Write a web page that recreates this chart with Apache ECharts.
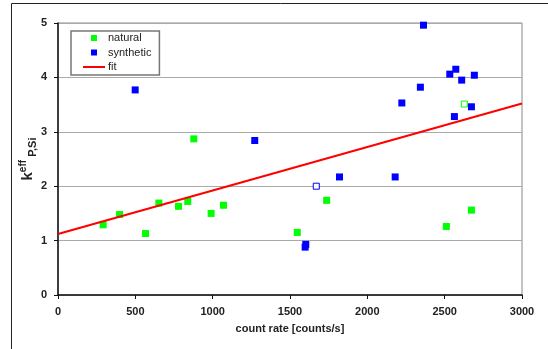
<!DOCTYPE html>
<html>
<head>
<meta charset="utf-8">
<script src="https://cdn.jsdelivr.net/npm/echarts@6/dist/echarts.min.js"></script>
<style>html,body{margin:0;padding:0;background:#fff}#c{width:548px;height:349px}</style>
</head>
<body>
<div id="c"></div>
<script>
// data
const naturalFilled = [[292,1.29],[398,1.48],[566,1.13],[652,1.69],[779,1.63],[839,1.72],[878,2.87],[990,1.50],[1070,1.65],[1547,1.15],[1737,1.74],[2511,1.26],[2673,1.56]];
const naturalOpen = [[2627,3.51]];
const syntheticFilled = [[499,3.77],[1272,2.84],[1598,0.88],[1602,0.93],[1820,2.17],[2180,2.17],[2223,3.53],[2343,3.82],[2363,4.96],[2533,4.06],[2572,4.15],[2610,3.95],[2692,4.04],[2673,3.46],[2563,3.28]];
const syntheticOpen = [[1670,2.00]];
const fitLine = [[0,1.12],[3000,3.52]];
const xTicks = [0,500,1000,1500,2000,2500,3000];
const yTicks = [0,1,2,3,4,5];

const GREEN = '#00ff00', BLUE = '#0000ff', RED = '#ff0000';
const FONT = '"Liberation Sans", Arial, sans-serif';
const SQUARE = 'path://M0,0L10,0L10,10L0,10Z';
const BAR = 'path://M0,0L22,0L22,2L0,2Z';

function openItems(arr, color){
  return arr.map(v => ({value: v, symbolSize: 6, itemStyle: {color: '#ffffff', borderColor: color, borderWidth: 1}}));
}

const chart = echarts.init(document.getElementById('c'));
chart.setOption({
  animation: false,
  backgroundColor: '#ffffff',
  graphic: [{
    type: 'rect', silent: true, z: -1,
    shape: {x: 11.5, y: 3.5, width: 700, height: 500},
    style: {fill: 'none', stroke: '#222', lineWidth: 1}
  }],
  grid: {left: 58, right: 26, top: 23, bottom: 54, show: true, borderColor: '#888', borderWidth: 1, backgroundColor: 'transparent'},
  legend: {
    left: 71, top: 31, orient: 'vertical',
    data: [{name: 'natural', icon: SQUARE}, {name: 'synthetic', icon: SQUARE}, {name: 'fit', icon: BAR}],
    symbolKeepAspect: true,
    itemWidth: 22, itemHeight: 6, itemGap: 2.5,
    padding: [1, 8, 2, 12],
    borderColor: '#777', borderWidth: 1.5, backgroundColor: '#fff',
    textStyle: {fontFamily: FONT, fontSize: 11, color: '#222', lineHeight: 12, padding: [0,0,0,-2]}
  },
  xAxis: {
    type: 'value', min: 0, max: 3000, interval: 500,
    name: 'count rate [counts/s]', nameLocation: 'middle', nameGap: 28, nameMoveOverlap: false,
    nameTextStyle: {fontFamily: FONT, fontSize: 11, fontWeight: 'bold', color: '#222'},
    axisLine: {show: true, onZero: false, lineStyle: {color: '#111', width: 1.5}},
    axisTick: {show: true, length: 4, lineStyle: {color: '#111', width: 1}},
    axisLabel: {fontFamily: FONT, fontSize: 11, fontWeight: 'bold', color: '#222', margin: 11,
      formatter: v => xTicks.includes(v) ? String(v) : ''},
    splitLine: {show: false}
  },
  yAxis: {
    type: 'value', min: 0, max: 5, interval: 1,
    name: '{k|k}{sup|eff}{sub| P,Si}', nameLocation: 'middle', nameGap: 20, nameMoveOverlap: false,
    nameTextStyle: {
      fontFamily: FONT, fontWeight: 'bold', color: '#222',
      rich: {
        k: {fontFamily: FONT, fontSize: 15, fontWeight: 'bold', color: '#222', lineHeight: 20, verticalAlign: 'middle'},
        sup: {fontFamily: FONT, fontSize: 10, fontWeight: 'bold', color: '#222', verticalAlign: 'top', lineHeight: 20},
        sub: {fontFamily: FONT, fontSize: 11, fontWeight: 'bold', color: '#222', verticalAlign: 'bottom', lineHeight: 20}
      }
    },
    axisLine: {show: true, onZero: false, lineStyle: {color: '#111', width: 1.5}},
    axisTick: {show: true, length: 4, lineStyle: {color: '#111', width: 1}},
    axisLabel: {fontFamily: FONT, fontSize: 11, fontWeight: 'bold', color: '#222', margin: 11,
      formatter: v => yTicks.includes(v) ? String(v) : ''},
    splitLine: {show: true, lineStyle: {color: '#aaa', width: 1}}
  },
  series: [
    {
      name: 'natural', type: 'scatter', symbol: 'rect', symbolSize: 7,
      itemStyle: {color: GREEN, opacity: 1},
      data: naturalFilled.map(v => ({value: v})).concat(openItems(naturalOpen, GREEN)),
      z: 3
    },
    {
      name: 'synthetic', type: 'scatter', symbol: 'rect', symbolSize: 7,
      itemStyle: {color: BLUE, opacity: 1},
      data: syntheticFilled.map(v => ({value: v})).concat(openItems(syntheticOpen, BLUE)),
      z: 3
    },
    {
      name: 'fit', type: 'line', symbol: 'none', showSymbol: false,
      lineStyle: {color: RED, width: 2}, itemStyle: {color: RED},
      data: fitLine, z: 4
    }
  ]
});
</script>
</body>
</html>
